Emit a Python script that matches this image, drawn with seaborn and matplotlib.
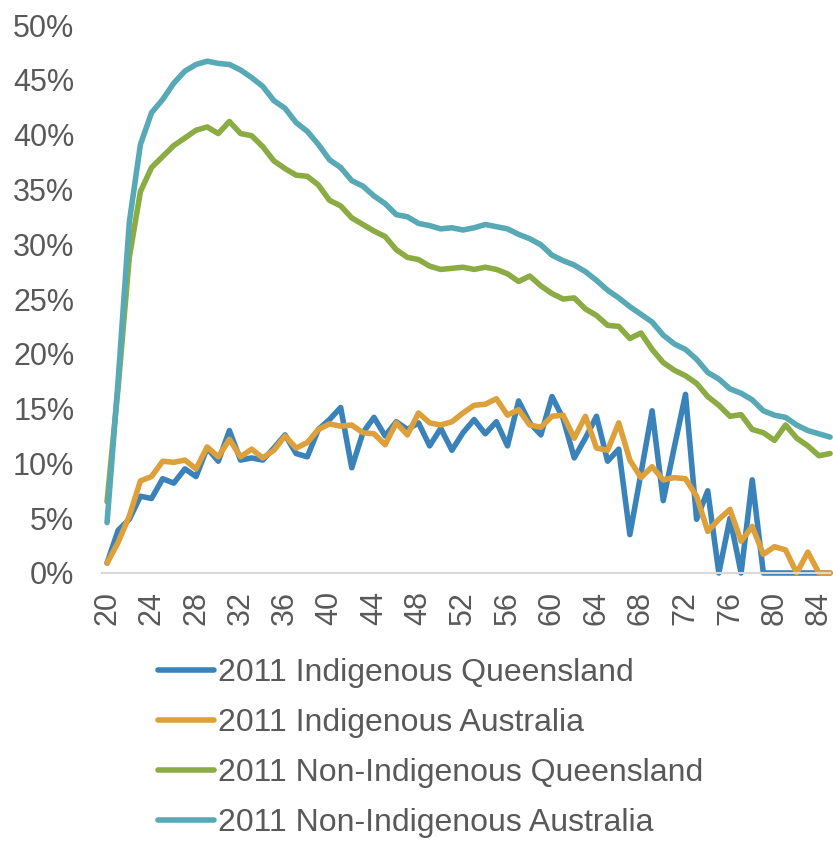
import matplotlib
matplotlib.use("Agg")
import numpy as np
import pandas as pd
import matplotlib.pyplot as plt
from matplotlib.ticker import FuncFormatter
import seaborn as sns

# share of each age group (%) - 2011 census
ages = list(range(20, 86))

indig_qld = [0.9, 3.9, 4.9, 7.0, 6.8, 8.6, 8.2, 9.5, 8.8, 11.4,
             10.2, 13.0, 10.3, 10.5, 10.3, 11.4, 12.6, 10.9, 10.6, 13.1,
             14.0, 15.1, 9.6, 12.8, 14.2, 12.5, 13.8, 13.1, 13.7, 11.6,
             13.2, 11.2, 12.8, 14.0, 12.7, 13.8, 11.6, 15.7, 13.7, 12.6,
             16.1, 14.1, 10.5, 12.3, 14.3, 10.2, 11.3, 3.5, 9.1, 14.8,
             6.6, 11.5, 16.3, 4.9, 7.5, 0.0, 5.0, 0.0, 8.5, 0.0,
             0.0, 0.0, 0.0, 0.0, 0.0, 0.0]

indig_aus = [0.9, 2.8, 5.2, 8.4, 8.8, 10.2, 10.1, 10.3, 9.5, 11.5,
             10.6, 12.2, 10.6, 11.3, 10.5, 11.2, 12.5, 11.4, 11.9, 13.1,
             13.6, 13.4, 13.5, 12.8, 12.7, 11.7, 13.7, 12.6, 14.6, 13.7,
             13.5, 13.8, 14.6, 15.3, 15.4, 15.9, 14.4, 14.9, 13.5, 13.3,
             14.3, 14.4, 12.3, 14.3, 11.4, 11.2, 13.7, 10.3, 8.7, 9.7,
             8.5, 8.7, 8.6, 7.0, 3.8, 4.9, 5.8, 2.9, 4.25, 1.7,
             2.4, 2.1, 0.0, 1.9, 0.0, 0.0]

nonindig_qld = [6.5, 17.0, 28.8, 34.8, 37.0, 38.0, 39.0, 39.7, 40.4, 40.7,
                40.1, 41.2, 40.1, 39.9, 38.9, 37.6, 36.9, 36.3, 36.2, 35.4,
                34.0, 33.5, 32.4, 31.8, 31.2, 30.7, 29.5, 28.8, 28.6, 28.0,
                27.7, 27.8, 27.9, 27.7, 27.9, 27.7, 27.3, 26.6, 27.1, 26.2,
                25.5, 25.0, 25.1, 24.1, 23.5, 22.6, 22.5, 21.4, 21.9, 20.4,
                19.2, 18.5, 18.0, 17.3, 16.1, 15.3, 14.3, 14.45, 13.1, 12.8,
                12.1, 13.5, 12.3, 11.6, 10.7, 10.9]

nonindig_aus = [4.6, 17.6, 32.0, 39.1, 42.0, 43.2, 44.7, 45.8, 46.4, 46.7,
                46.5, 46.4, 45.9, 45.2, 44.4, 43.1, 42.4, 41.1, 40.3, 39.1,
                37.7, 37.0, 35.8, 35.3, 34.4, 33.7, 32.7, 32.5, 31.9, 31.7,
                31.4, 31.5, 31.3, 31.5, 31.8, 31.6, 31.4, 30.9, 30.5, 29.95,
                29.0, 28.5, 28.1, 27.5, 26.7, 25.8, 25.1, 24.3, 23.6, 22.9,
                21.7, 20.9, 20.4, 19.5, 18.3, 17.7, 16.8, 16.4, 15.8, 14.8,
                14.4, 14.2, 13.5, 13.0, 12.7, 12.4]

series_names = ["2011 Indigenous Queensland", "2011 Indigenous Australia",
                "2011 Non-Indigenous Queensland", "2011 Non-Indigenous Australia"]
colors = ["#3A82BA", "#DDA03A", "#8BAC43", "#56A9B5"]
xticks = list(range(20, 85, 4))
yticks = list(range(0, 55, 5))

df = pd.concat([
    pd.DataFrame({"age": ages, "pct": vals, "series": name})
    for name, vals in zip(series_names, [indig_qld, indig_aus, nonindig_qld, nonindig_aus])
])

sns.set_style("white")
plt.rcParams["font.family"] = ["Liberation Sans", "DejaVu Sans"]
grey = "#595959"

fig = plt.figure(figsize=(8.33, 8.43), dpi=100)
ax = fig.add_axes([0.1225, 0.3203, 0.874, 0.65])

sns.lineplot(data=df, x="age", y="pct", hue="series", hue_order=series_names,
             palette=colors, linewidth=4.0, ax=ax, legend=False)
for ln in ax.lines:
    ln.set_clip_on(False)
    ln.set_solid_joinstyle("round")
    ln.set_solid_capstyle("round")

ax.set_xlim(19.55, 85.0)
ax.set_ylim(0, 50)
ax.set_xticks(xticks)
ax.set_yticks(yticks)
ax.yaxis.set_major_formatter(FuncFormatter(lambda v, p: f"{v:.0f}%"))
ax.tick_params(axis="x", labelrotation=90, length=0, pad=13, labelsize=22, labelcolor=grey)
ax.tick_params(axis="y", length=0, pad=20, labelsize=22, labelcolor=grey)
ax.set_xlabel("")
ax.set_ylabel("")

for side in ["top", "right", "left"]:
    ax.spines[side].set_visible(False)
ax.spines["bottom"].set_color("#D9D9D9")
ax.spines["bottom"].set_linewidth(1.5)

handles = [plt.Line2D([], [], color=c, linewidth=4.0, solid_capstyle="round") for c in colors]
fig.legend(handles, series_names, loc="upper left", bbox_to_anchor=(0.19, 0.219),
           frameon=False, fontsize=23, labelcolor=grey, handlelength=1.75,
           handletextpad=0.12, labelspacing=0.62, borderpad=0, borderaxespad=0)

fig.savefig("out.png", dpi=100)
